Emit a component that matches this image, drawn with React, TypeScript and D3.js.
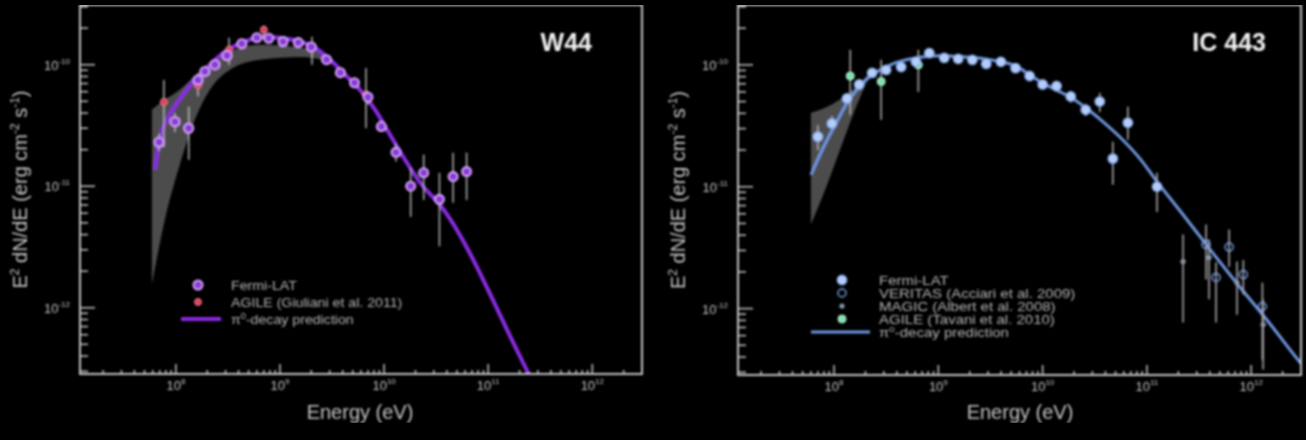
import React from "react";
import * as d3 from "d3";

type Pt = { e: number; f: number; lo: number; hi: number };
type M = { e: number; f: number };

// ---------- axes ----------
const X_DOMAIN: [number, number] = [1.2e7, 3e12];
const Y_DOMAIN: [number, number] = [2.85e-13, 3.1e-10];
const X_TICK_EXP = [8, 9, 10, 11, 12];
const Y_TICK_EXP = [-10, -11, -12];

// ---------- W44 ----------
const W44_FERMI: Pt[] = [
  { e: 6.9e7, f: 2.3e-11, lo: 1.95e-11, hi: 2.7e-11 },
  { e: 9.8e7, f: 3.4e-11, lo: 2.8e-11, hi: 4.0e-11 },
  { e: 1.33e8, f: 3.0e-11, lo: 1.65e-11, hi: 4.5e-11 },
  { e: 1.63e8, f: 7.5e-11, lo: 6.6e-11, hi: 8.5e-11 },
  { e: 1.9e8, f: 8.8e-11, lo: 8.0e-11, hi: 9.6e-11 },
  { e: 2.37e8, f: 1.0e-10, lo: 9.3e-11, hi: 1.08e-10 },
  { e: 3.1e8, f: 1.19e-10, lo: 1.11e-10, hi: 1.27e-10 },
  { e: 4.3e8, f: 1.49e-10, lo: 1.4e-10, hi: 1.58e-10 },
  { e: 6.0e8, f: 1.67e-10, lo: 1.58e-10, hi: 1.76e-10 },
  { e: 7.8e8, f: 1.65e-10, lo: 1.56e-10, hi: 1.74e-10 },
  { e: 1.07e9, f: 1.55e-10, lo: 1.47e-10, hi: 1.63e-10 },
  { e: 1.5e9, f: 1.52e-10, lo: 1.44e-10, hi: 1.6e-10 },
  { e: 2.0e9, f: 1.4e-10, lo: 1.32e-10, hi: 1.48e-10 },
  { e: 2.8e9, f: 1.1e-10, lo: 1.03e-10, hi: 1.17e-10 },
  { e: 3.8e9, f: 8.6e-11, lo: 8.0e-11, hi: 9.2e-11 },
  { e: 5.2e9, f: 7.1e-11, lo: 6.5e-11, hi: 7.7e-11 },
  { e: 7.0e9, f: 5.4e-11, lo: 4.7e-11, hi: 6.1e-11 },
  { e: 9.4e9, f: 3.1e-11, lo: 2.8e-11, hi: 3.4e-11 },
  { e: 1.3e10, f: 1.9e-11, lo: 1.6e-11, hi: 2.25e-11 },
  { e: 1.8e10, f: 1.0e-11, lo: 5.6e-12, hi: 1.41e-11 },
  { e: 2.4e10, f: 1.29e-11, lo: 7.7e-12, hi: 1.82e-11 },
  { e: 3.4e10, f: 7.8e-12, lo: 3.2e-12, hi: 1.29e-11 },
  { e: 4.6e10, f: 1.2e-11, lo: 7.3e-12, hi: 1.89e-11 },
  { e: 6.2e10, f: 1.32e-11, lo: 7.7e-12, hi: 1.89e-11 },
];
const W44_AGILE: Pt[] = [
  { e: 7.67e7, f: 4.95e-11, lo: 2.1e-11, hi: 7.5e-11 },
  { e: 1.63e8, f: 6.8e-11, lo: 5.5e-11, hi: 8.4e-11 },
  { e: 3.24e8, f: 1.33e-10, lo: 1.0e-10, hi: 1.67e-10 },
  { e: 7.0e8, f: 1.94e-10, lo: 1.6e-10, hi: 2.1e-10 },
  { e: 2.03e9, f: 1.4e-10, lo: 1.0e-10, hi: 1.7e-10 },
  { e: 6.7e9, f: 5.66e-11, lo: 3.0e-11, hi: 9.4e-11 },
];
const W44_MODEL: M[] = [
  { e: 6.28e7, f: 1.37e-11 }, { e: 7.0e7, f: 2.4e-11 }, { e: 8.75e7, f: 3.9e-11 },
  { e: 1.09e8, f: 5.2e-11 }, { e: 1.52e8, f: 7.5e-11 }, { e: 2.12e8, f: 1.0e-10 },
  { e: 2.96e8, f: 1.28e-10 }, { e: 4.6e8, f: 1.55e-10 }, { e: 6.7e8, f: 1.7e-10 },
  { e: 1.0e9, f: 1.67e-10 }, { e: 1.56e9, f: 1.55e-10 }, { e: 2.17e9, f: 1.38e-10 },
  { e: 3.03e9, f: 1.1e-10 }, { e: 4.22e9, f: 8.3e-11 }, { e: 5.87e9, f: 6.2e-11 },
  { e: 8.18e9, f: 4.27e-11 }, { e: 1.14e10, f: 2.65e-11 }, { e: 1.59e10, f: 1.65e-11 },
  { e: 2.22e10, f: 1.07e-11 }, { e: 3.45e10, f: 7.0e-12 }, { e: 2.43e11, f: 2.9e-13 },
  { e: 3.98e11, f: 1.28e-13 },
];
const W44_BAND_E = [5.88e7, 7.83e7, 1.09e8, 1.52e8, 2.12e8, 3.3e8, 6.42e8, 1.56e9, 3.03e9, 4.22e9];
const W44_BAND_UP = [4.27e-11, 5.15e-11, 6.22e-11, 8.12e-11, 1.02e-10, 1.28e-10, 1.46e-10, 1.38e-10, 1.14e-10, 8.28e-11];
const W44_BAND_LO = [1.55e-12, 5.3e-12, 1.5e-11, 3.52e-11, 6.22e-11, 9.1e-11, 1.1e-10, 1.16e-10, 1.06e-10, 8.28e-11];

// ---------- IC 443 ----------
const IC_FERMI: Pt[] = [
  { e: 7.0e7, f: 2.57e-11, lo: 2.0e-11, hi: 3.2e-11 },
  { e: 9.55e7, f: 3.3e-11, lo: 3.0e-11, hi: 3.8e-11 },
  { e: 1.33e8, f: 5.3e-11, lo: 4.9e-11, hi: 5.7e-11 },
  { e: 1.74e8, f: 6.9e-11, lo: 6.5e-11, hi: 7.3e-11 },
  { e: 2.32e8, f: 8.6e-11, lo: 8.2e-11, hi: 9.0e-11 },
  { e: 3.16e8, f: 9.1e-11, lo: 8.7e-11, hi: 9.5e-11 },
  { e: 4.4e8, f: 9.6e-11, lo: 9.2e-11, hi: 1.0e-10 },
  { e: 6.1e8, f: 1.06e-10, lo: 1.01e-10, hi: 1.11e-10 },
  { e: 8.2e8, f: 1.25e-10, lo: 1.19e-10, hi: 1.31e-10 },
  { e: 1.14e9, f: 1.14e-10, lo: 1.09e-10, hi: 1.19e-10 },
  { e: 1.55e9, f: 1.12e-10, lo: 1.07e-10, hi: 1.17e-10 },
  { e: 2.12e9, f: 1.1e-10, lo: 1.05e-10, hi: 1.15e-10 },
  { e: 2.88e9, f: 1.02e-10, lo: 9.7e-11, hi: 1.07e-10 },
  { e: 3.98e9, f: 1.06e-10, lo: 1.0e-10, hi: 1.12e-10 },
  { e: 5.5e9, f: 9.4e-11, lo: 8.8e-11, hi: 1.0e-10 },
  { e: 7.5e9, f: 8.1e-11, lo: 7.5e-11, hi: 8.7e-11 },
  { e: 1.0e10, f: 6.9e-11, lo: 6.3e-11, hi: 7.5e-11 },
  { e: 1.36e10, f: 6.7e-11, lo: 6.0e-11, hi: 7.4e-11 },
  { e: 1.86e10, f: 5.5e-11, lo: 4.9e-11, hi: 6.1e-11 },
  { e: 2.59e10, f: 4.28e-11, lo: 3.8e-11, hi: 4.8e-11 },
  { e: 3.53e10, f: 5.0e-11, lo: 4.1e-11, hi: 5.9e-11 },
  { e: 4.71e10, f: 1.7e-11, lo: 1.04e-11, hi: 2.34e-11 },
  { e: 6.56e10, f: 3.35e-11, lo: 2.43e-11, hi: 4.53e-11 },
  { e: 1.25e11, f: 1.0e-11, lo: 6.2e-12, hi: 1.3e-11 },
];
const IC_VERITAS: Pt[] = [
  { e: 3.69e11, f: 3.35e-12, lo: 1.73e-12, hi: 4.9e-12 },
  { e: 4.6e11, f: 1.8e-12, lo: 7.7e-13, hi: 2.4e-12 },
  { e: 6.14e11, f: 3.2e-12, lo: 2.2e-12, hi: 4.45e-12 },
  { e: 8.4e11, f: 1.9e-12, lo: 1.3e-12, hi: 2.5e-12 },
  { e: 1.28e12, f: 1.04e-12, lo: 3.8e-13, hi: 1.63e-12 },
];
const IC_MAGIC: Pt[] = [
  { e: 2.22e11, f: 2.43e-12, lo: 7.7e-13, hi: 4.05e-12 },
  { e: 3.94e11, f: 2.62e-12, lo: 1.19e-12, hi: 3.68e-12 },
  { e: 7.3e11, f: 1.63e-12, lo: 8.9e-13, hi: 2.43e-12 },
  { e: 1.3e12, f: 7.4e-13, lo: 3.16e-13, hi: 1.19e-12 },
];
const IC_AGILE: Pt[] = [
  { e: 1.43e8, f: 8.1e-11, lo: 3.9e-11, hi: 1.33e-10 },
  { e: 2.83e8, f: 7.3e-11, lo: 3.54e-11, hi: 1.1e-10 },
  { e: 6.43e8, f: 1.0e-10, lo: 6.0e-11, hi: 1.33e-10 },
];
const IC_MODEL: M[] = [
  { e: 6.0e7, f: 1.25e-11 }, { e: 7.67e7, f: 2.0e-11 }, { e: 1.02e8, f: 3.2e-11 },
  { e: 1.36e8, f: 5.0e-11 }, { e: 1.86e8, f: 7.0e-11 }, { e: 2.65e8, f: 8.9e-11 },
  { e: 3.86e8, f: 1.04e-10 }, { e: 6.0e8, f: 1.14e-10 }, { e: 1.04e9, f: 1.19e-10 },
  { e: 1.82e9, f: 1.16e-10 }, { e: 2.83e9, f: 1.12e-10 }, { e: 3.94e9, f: 1.06e-10 },
  { e: 5.5e9, f: 9.8e-11 }, { e: 7.5e9, f: 8.3e-11 }, { e: 1.0e10, f: 7.1e-11 },
  { e: 1.36e10, f: 6.2e-11 }, { e: 1.86e10, f: 5.4e-11 }, { e: 2.59e10, f: 4.45e-11 },
  { e: 3.61e10, f: 3.54e-11 }, { e: 5.6e10, f: 2.52e-11 }, { e: 8.75e10, f: 1.66e-11 },
  { e: 1.25e11, f: 1.1e-11 }, { e: 2.12e11, f: 6.2e-12 }, { e: 4.04e11, f: 3.05e-12 },
  { e: 7.2e11, f: 1.63e-12 }, { e: 1.33e12, f: 8.6e-13 }, { e: 3.03e12, f: 3.5e-13 },
  { e: 4.7e12, f: 2.2e-13 },
];
const IC_BAND_E = [6.0e7, 8.2e7, 1.14e8, 1.59e8, 2.22e8];
const IC_BAND_UP = [4.05e-11, 4.45e-11, 5.2e-11, 6.5e-11, 8.8e-11];
const IC_BAND_LO = [4.9e-12, 9.4e-12, 2.0e-11, 4.3e-11, 8.4e-11];

const W44_LEGEND = ["Fermi-LAT", "AGILE (Giuliani et al. 2011)"];
const IC_LEGEND = ["Fermi-LAT", "VERITAS (Acciari et al. 2009)", "MAGIC (Albert et al. 2008)", "AGILE (Tavani et al. 2010)"];

const FONT = "'Liberation Sans', Arial, Helvetica, sans-serif";
const AXIS = "#c4c4c4";
const ERR = "#a8a8a8";

type Kind = "w44fermi" | "w44agile" | "icfermi" | "icveritas" | "icmagic" | "icagile";

function Marker({ kind, cx, cy }: { kind: Kind; cx: number; cy: number }) {
  switch (kind) {
    case "w44fermi":
      return <circle cx={cx} cy={cy} r={4.6} fill="#8a3ad6" stroke="#d9a6ff" strokeWidth={1.8} />;
    case "w44agile":
      return <circle cx={cx} cy={cy} r={3.4} fill="#d8405a" stroke="#ff7d8f" strokeWidth={1} />;
    case "icfermi":
      return <circle cx={cx} cy={cy} r={4.8} fill="#b4cdfa" stroke="#7fa3e6" strokeWidth={1.2} />;
    case "icveritas":
      return <circle cx={cx} cy={cy} r={4} fill="none" stroke="#7aa0e8" strokeWidth={1.5} />;
    case "icmagic":
      return <circle cx={cx} cy={cy} r={2.6} fill="#8c98a8" />;
    case "icagile":
      return <circle cx={cx} cy={cy} r={4} fill="#7fe0b0" stroke="#b8f5d2" strokeWidth={1} />;
  }
  return null;
}

type Series = { kind: Kind; data: Pt[] };

type PanelProps = {
  x0: number; x1: number; y0: number; y1: number;
  title: string; titleX: number;
  series: Series[];
  model: M[]; modelColor: string; modelWidth: number;
  bandE: number[]; bandUp: number[]; bandLo: number[];
  legendLabels: string[]; legendKinds: Kind[];
  legMarkX: number; legTextX: number; legY: number; legStep: number; legLine: [number, number];
  legFont: number; legStretch: number;
  ylabelX: number; xlabelX: number; id: string;
};

function Panel(p: PanelProps) {
  const x = d3.scaleLog().domain(X_DOMAIN).range([p.x0, p.x1]);
  const y = d3.scaleLog().domain(Y_DOMAIN).range([p.y1, p.y0]);
  const isMajor = (v: number) => Math.abs(Math.log10(v) - Math.round(Math.log10(v))) < 1e-6;
  const xt = x.ticks();
  const yt = y.ticks();
  const line = d3.line<M>().x(d => x(d.e)).y(d => y(d.f)).curve(d3.curveMonotoneX);
  const bandData = p.bandE.map((e, i) => ({ e, up: p.bandUp[i], lo: p.bandLo[i] }));
  const area = d3.area<{ e: number; up: number; lo: number }>()
    .x(d => x(d.e)).y0(d => y(d.lo)).y1(d => y(d.up)).curve(d3.curveMonotoneX);
  const cid = `clip-${p.id}`;
  const n = p.legendLabels.length;
  return (
    <g>
      <defs>
        <clipPath id={cid}>
          <rect x={p.x0} y={p.y0} width={p.x1 - p.x0} height={p.y1 - p.y0} />
        </clipPath>
      </defs>
      <g clipPath={`url(#${cid})`}>
        <path d={area(bandData) || ""} fill="#5a5a5a" opacity={0.85} />
        <path d={line(p.model) || ""} fill="none" stroke={p.modelColor} strokeWidth={p.modelWidth} strokeLinejoin="round" />
        {p.series.map(s => (
          <g key={s.kind}>
            {s.data.map((d, i) => (
              <line key={i} x1={x(d.e)} x2={x(d.e)} y1={y(d.lo)} y2={y(d.hi)} stroke={ERR} strokeWidth={1.6} />
            ))}
          </g>
        ))}
        {p.series.map(s => (
          <g key={s.kind + "m"}>
            {s.data.map((d, i) => <Marker key={i} kind={s.kind} cx={x(d.e)} cy={y(d.f)} />)}
          </g>
        ))}
      </g>
      <rect x={p.x0} y={p.y0} width={p.x1 - p.x0} height={p.y1 - p.y0} fill="none" stroke={AXIS} strokeWidth={2} />
      {xt.map((v, i) => {
        const m = isMajor(v);
        return <line key={i} x1={x(v)} x2={x(v)} y1={p.y1} y2={p.y1 - (m ? 10 : 4)} stroke={AXIS} strokeWidth={1.5} />;
      })}
      {X_TICK_EXP.map(k => (
        <text key={k} x={x(Math.pow(10, k))} y={p.y1 + 16} fill={AXIS} fontFamily={FONT} fontSize={13} textAnchor="middle">
          10<tspan dy={-6} fontSize={8}>{k}</tspan>
        </text>
      ))}
      {yt.map((v, i) => {
        const m = isMajor(v);
        return <line key={i} x1={p.x0} x2={p.x0 + (m ? 15 : 8)} y1={y(v)} y2={y(v)} stroke={AXIS} strokeWidth={1.5} />;
      })}
      {Y_TICK_EXP.map(k => (
        <text key={k} x={p.x0 - 10} y={y(Math.pow(10, k)) + 5} fill={AXIS} fontFamily={FONT} fontSize={13} textAnchor="end">
          10<tspan dy={-6} fontSize={8}>{k}</tspan>
        </text>
      ))}
      <text transform={`translate(${p.ylabelX},${(p.y0 + p.y1) / 2}) rotate(-90)`} fill={AXIS} fontFamily={FONT} fontSize={20} textAnchor="middle">
        E<tspan dy={-8} fontSize={12}>2</tspan><tspan dy={8}> dN/dE (erg cm</tspan><tspan dy={-8} fontSize={12}>-2</tspan><tspan dy={8}> s</tspan><tspan dy={-8} fontSize={12}>-1</tspan><tspan dy={8}>)</tspan>
      </text>
      <text x={p.xlabelX} y={419} fill={AXIS} fontFamily={FONT} fontSize={20} textAnchor="middle">Energy (eV)</text>
      <text x={p.titleX} y={51} fill="#f2f2f2" fontFamily={FONT} fontSize={25} fontWeight="bold" textAnchor="end">{p.title}</text>
      {p.legendLabels.map((lab, i) => (
        <g key={lab}>
          <Marker kind={p.legendKinds[i]} cx={p.legMarkX} cy={p.legY + i * p.legStep} />
          <text transform={`translate(${p.legTextX},${p.legY + i * p.legStep + p.legFont * 0.36}) scale(${p.legStretch},1)`}
            fill="#b4b4b4" fontFamily={FONT} fontSize={p.legFont}>{lab}</text>
        </g>
      ))}
      <line x1={p.legLine[0]} x2={p.legLine[1]} y1={p.legY + n * p.legStep} y2={p.legY + n * p.legStep}
        stroke={p.modelColor} strokeWidth={p.modelWidth} />
      <text transform={`translate(${p.legTextX},${p.legY + n * p.legStep + p.legFont * 0.36}) scale(${p.legStretch},1)`}
        fill="#b4b4b4" fontFamily={FONT} fontSize={p.legFont}>
        π<tspan dy={-5} fontSize={p.legFont * 0.65}>0</tspan><tspan dy={5}>-decay prediction</tspan>
      </text>
    </g>
  );
}

export default function App() {
  return (
    <svg width={1306} height={440} style={{ position: "absolute", left: 0, top: 0, background: "#000" }}>
      <defs>
        <filter id="soft" x="0" y="0" width="100%" height="100%">
          <feGaussianBlur stdDeviation={0.8} />
        </filter>
      </defs>
      <rect x={0} y={0} width={1306} height={440} fill="#000" />
      <g filter="url(#soft)">
        <Panel id="w44" x0={80} x1={642} y0={5} y1={374} title="W44" titleX={592}
          series={[{ kind: "w44agile", data: W44_AGILE }, { kind: "w44fermi", data: W44_FERMI }]}
          model={W44_MODEL} modelColor="#8a2be2" modelWidth={4}
          bandE={W44_BAND_E} bandUp={W44_BAND_UP} bandLo={W44_BAND_LO}
          legendLabels={W44_LEGEND} legendKinds={["w44fermi", "w44agile"]}
          legMarkX={198} legTextX={231} legY={285} legStep={17} legLine={[181, 221]}
          legFont={13.5} legStretch={1.05}
          ylabelX={27} xlabelX={360} />
        <Panel id="ic" x0={738} x1={1301} y0={5} y1={375} title="IC 443" titleX={1266}
          series={[{ kind: "icmagic", data: IC_MAGIC }, { kind: "icveritas", data: IC_VERITAS }, { kind: "icagile", data: IC_AGILE }, { kind: "icfermi", data: IC_FERMI }]}
          model={IC_MODEL} modelColor="#6f96e0" modelWidth={3}
          bandE={IC_BAND_E} bandUp={IC_BAND_UP} bandLo={IC_BAND_LO}
          legendLabels={IC_LEGEND} legendKinds={["icfermi", "icveritas", "icmagic", "icagile"]}
          legMarkX={842} legTextX={879} legY={280} legStep={13} legLine={[811, 870]}
          legFont={12.5} legStretch={1.2}
          ylabelX={685} xlabelX={1020} />
      </g>
    </svg>
  );
}
